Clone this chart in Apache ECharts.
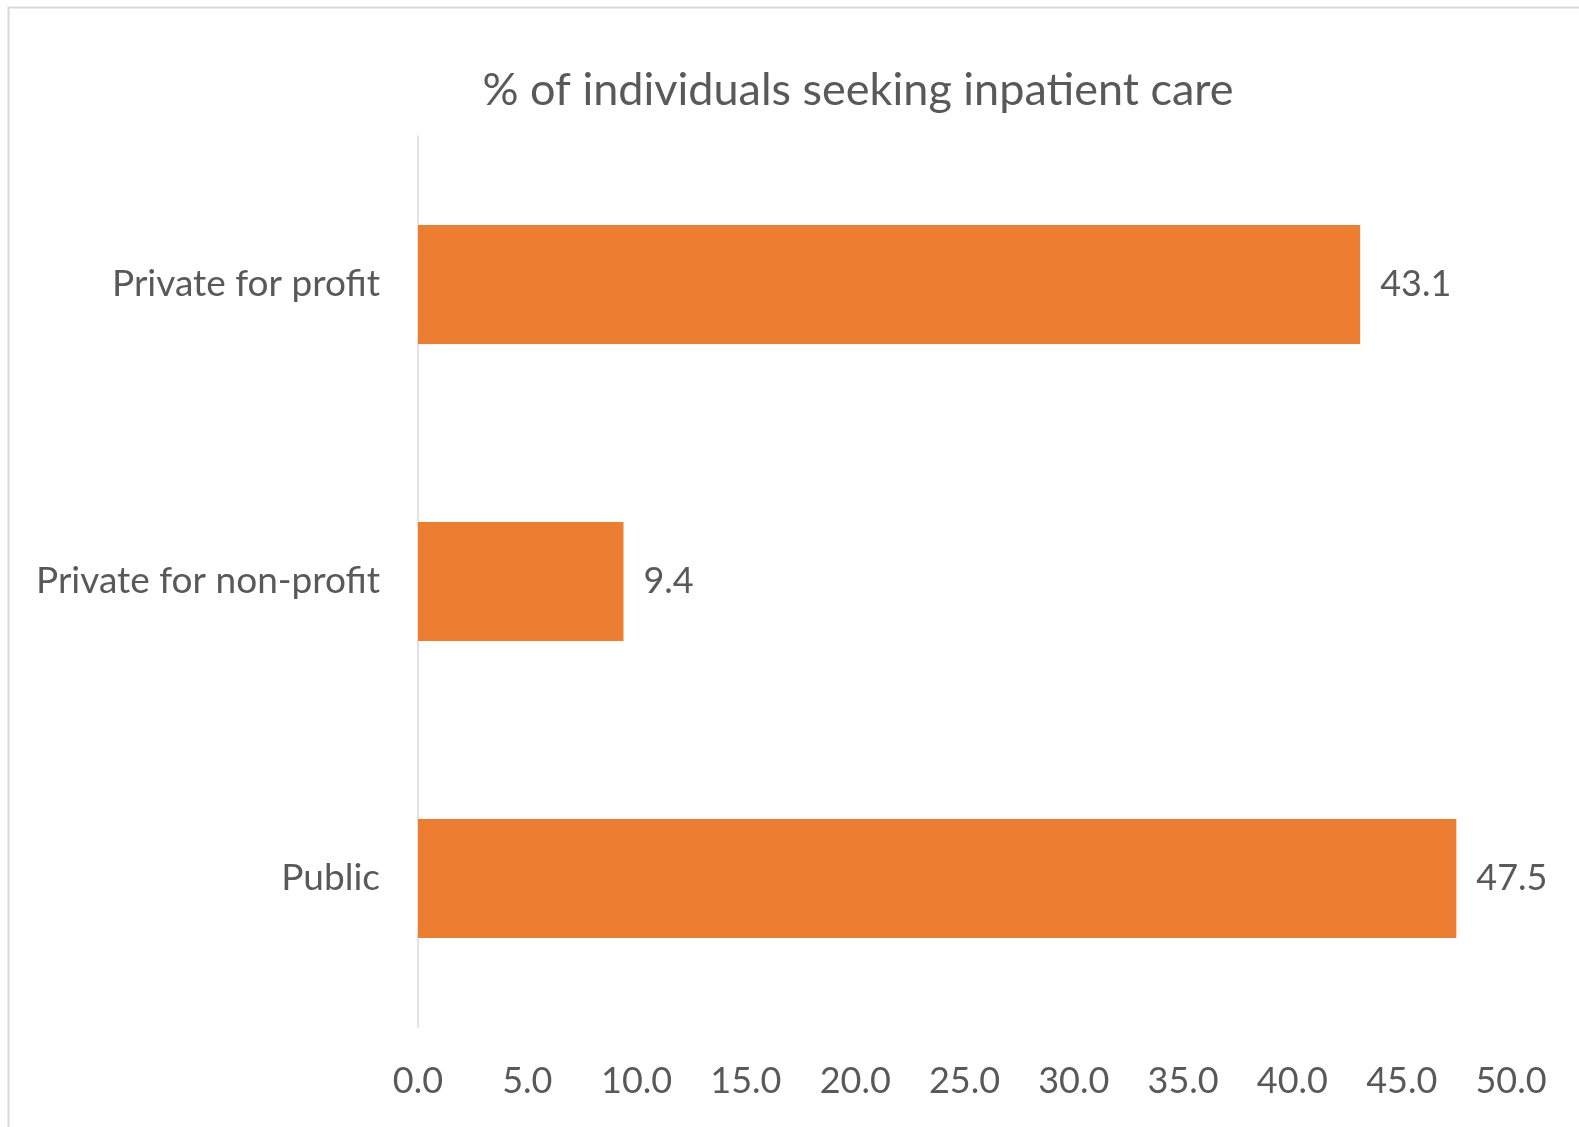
<!DOCTYPE html>
<html>
<head>
<meta charset="utf-8">
<title>% of individuals seeking inpatient care</title>
<script src="https://cdn.jsdelivr.net/npm/echarts@6/dist/echarts.min.js"></script>
<style>
  html, body { margin: 0; padding: 0; background: #ffffff; }
  #chart { width: 1579px; height: 1127px; }
</style>
</head>
<body>
<div id="chart"></div>
<script>
// Facility types, listed bottom-to-top as drawn on the category axis
const categories = ['Public', 'Private for non-profit', 'Private for profit'];
// Share of individuals (%) seeking inpatient care at each facility type
const shares = [47.5, 9.4, 43.1];
// Value axis ticks
const axisMin = 0;
const axisMax = 50;
const axisStep = 5;

const FONT = 'Lato, "Open Sans", sans-serif';
const TEXT = '#595959';

const chart = echarts.init(document.getElementById('chart'), null, { renderer: 'canvas' });

chart.setOption({
  backgroundColor: '#ffffff',
  animation: false,
  graphic: [{
    type: 'rect',
    silent: true,
    shape: { x: 8.5, y: 7.5, width: 1700, height: 1300 },
    style: { fill: 'none', stroke: '#d9d9d9', lineWidth: 2 }
  }],
  title: {
    text: '% of individuals seeking inpatient care',
    left: 858,
    top: 68,
    textAlign: 'center',
    padding: 0,
    textStyle: { fontFamily: FONT, fontSize: 45, fontWeight: 'normal', color: TEXT }
  },
  grid: { left: 418, right: 68, top: 136, bottom: 100, containLabel: false },
  xAxis: {
    type: 'value',
    min: axisMin,
    max: axisMax,
    interval: axisStep,
    axisLine: { show: false },
    axisTick: { show: false },
    splitLine: { show: false },
    axisLabel: {
      margin: 36,
      fontFamily: FONT,
      fontSize: 36,
      color: TEXT,
      formatter: v => v.toFixed(1)
    }
  },
  yAxis: {
    type: 'category',
    data: categories,
    axisLine: { show: true, lineStyle: { color: '#d9d9d9', width: 1.5 } },
    axisTick: { show: false },
    axisLabel: { margin: 38, fontFamily: FONT, fontSize: 37, color: TEXT }
  },
  series: [{
    type: 'bar',
    data: shares,
    barCategoryGap: '60%',
    itemStyle: { color: '#ED7D31' },
    label: {
      show: true,
      position: 'right',
      distance: 20,
      fontFamily: FONT,
      fontSize: 36,
      color: TEXT,
      formatter: p => p.value.toFixed(1)
    }
  }]
});
</script>
</body>
</html>
